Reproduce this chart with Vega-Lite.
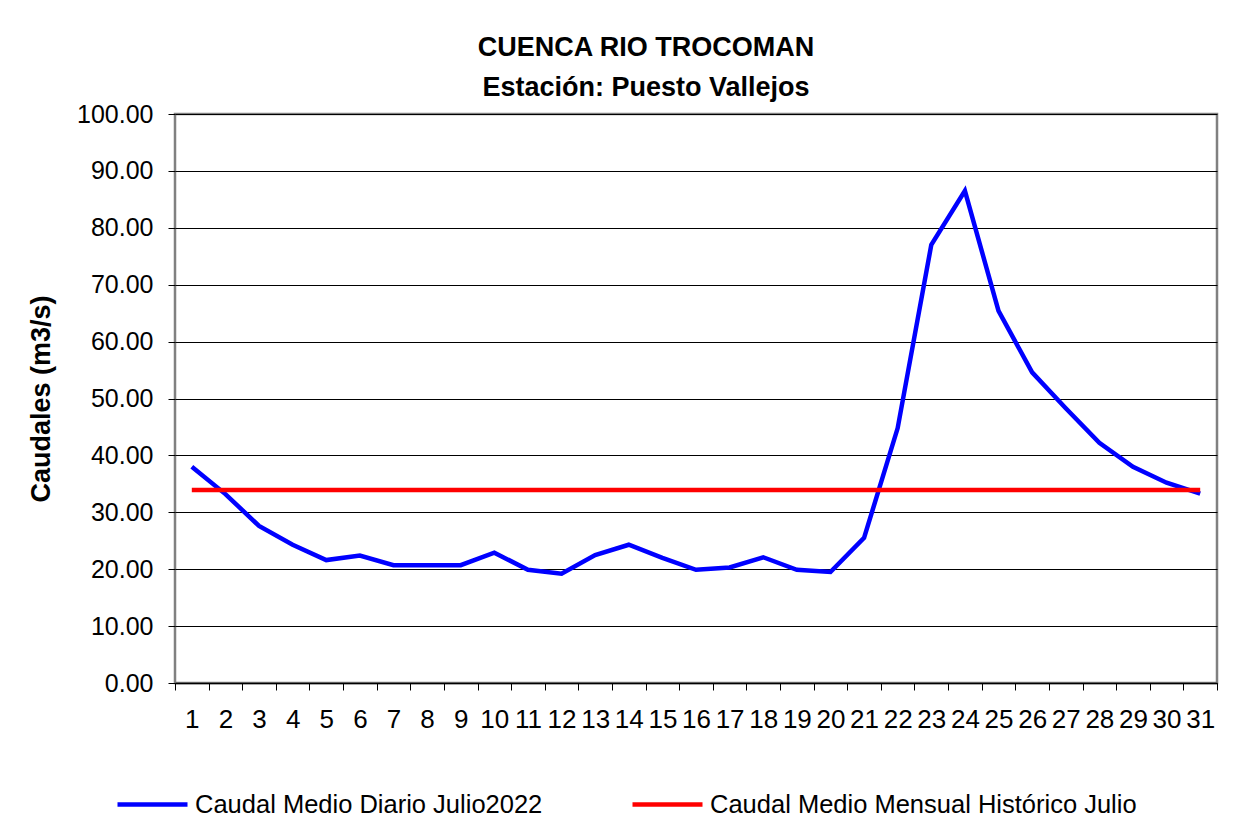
{
  "$schema": "https://vega.github.io/schema/vega-lite/v6.json",
  "width": 1042,
  "height": 569,
  "autosize": {"type": "none"},
  "padding": {"left": 175, "top": 114, "right": 34, "bottom": 151},
  "background": "white",
  "title": {
    "text": ["CUENCA RIO TROCOMAN", "Estación: Puesto Vallejos"],
    "font": "Liberation Sans",
    "fontSize": 27,
    "fontWeight": "bold",
    "lineHeight": 40,
    "color": "black",
    "anchor": "middle",
    "dx": -50,
    "offset": 0
  },
  "config": {
    "view": {"stroke": "#808080", "strokeWidth": 2.5},
    "axis": {"labelFont": "Liberation Sans", "titleFont": "Liberation Sans", "labelColor": "black", "titleColor": "black"}
  },
  "data": {
    "values": [
      {"dia": 1, "serie": "Caudal Medio Diario Julio2022", "caudal": 38.0},
      {"dia": 2, "serie": "Caudal Medio Diario Julio2022", "caudal": 33.2},
      {"dia": 3, "serie": "Caudal Medio Diario Julio2022", "caudal": 27.6},
      {"dia": 4, "serie": "Caudal Medio Diario Julio2022", "caudal": 24.3},
      {"dia": 5, "serie": "Caudal Medio Diario Julio2022", "caudal": 21.6},
      {"dia": 6, "serie": "Caudal Medio Diario Julio2022", "caudal": 22.4},
      {"dia": 7, "serie": "Caudal Medio Diario Julio2022", "caudal": 20.7},
      {"dia": 8, "serie": "Caudal Medio Diario Julio2022", "caudal": 20.7},
      {"dia": 9, "serie": "Caudal Medio Diario Julio2022", "caudal": 20.7},
      {"dia": 10, "serie": "Caudal Medio Diario Julio2022", "caudal": 22.9},
      {"dia": 11, "serie": "Caudal Medio Diario Julio2022", "caudal": 19.9},
      {"dia": 12, "serie": "Caudal Medio Diario Julio2022", "caudal": 19.2},
      {"dia": 13, "serie": "Caudal Medio Diario Julio2022", "caudal": 22.5},
      {"dia": 14, "serie": "Caudal Medio Diario Julio2022", "caudal": 24.3},
      {"dia": 15, "serie": "Caudal Medio Diario Julio2022", "caudal": 22.0},
      {"dia": 16, "serie": "Caudal Medio Diario Julio2022", "caudal": 19.9},
      {"dia": 17, "serie": "Caudal Medio Diario Julio2022", "caudal": 20.3},
      {"dia": 18, "serie": "Caudal Medio Diario Julio2022", "caudal": 22.1},
      {"dia": 19, "serie": "Caudal Medio Diario Julio2022", "caudal": 19.9},
      {"dia": 20, "serie": "Caudal Medio Diario Julio2022", "caudal": 19.5},
      {"dia": 21, "serie": "Caudal Medio Diario Julio2022", "caudal": 25.5},
      {"dia": 22, "serie": "Caudal Medio Diario Julio2022", "caudal": 44.8},
      {"dia": 23, "serie": "Caudal Medio Diario Julio2022", "caudal": 77.0},
      {"dia": 24, "serie": "Caudal Medio Diario Julio2022", "caudal": 86.5},
      {"dia": 25, "serie": "Caudal Medio Diario Julio2022", "caudal": 65.4},
      {"dia": 26, "serie": "Caudal Medio Diario Julio2022", "caudal": 54.6},
      {"dia": 27, "serie": "Caudal Medio Diario Julio2022", "caudal": 48.3},
      {"dia": 28, "serie": "Caudal Medio Diario Julio2022", "caudal": 42.2},
      {"dia": 29, "serie": "Caudal Medio Diario Julio2022", "caudal": 38.0},
      {"dia": 30, "serie": "Caudal Medio Diario Julio2022", "caudal": 35.2},
      {"dia": 31, "serie": "Caudal Medio Diario Julio2022", "caudal": 33.3},
      {"dia": 1, "serie": "Caudal Medio Mensual Histórico Julio", "caudal": 33.9},
      {"dia": 2, "serie": "Caudal Medio Mensual Histórico Julio", "caudal": 33.9},
      {"dia": 3, "serie": "Caudal Medio Mensual Histórico Julio", "caudal": 33.9},
      {"dia": 4, "serie": "Caudal Medio Mensual Histórico Julio", "caudal": 33.9},
      {"dia": 5, "serie": "Caudal Medio Mensual Histórico Julio", "caudal": 33.9},
      {"dia": 6, "serie": "Caudal Medio Mensual Histórico Julio", "caudal": 33.9},
      {"dia": 7, "serie": "Caudal Medio Mensual Histórico Julio", "caudal": 33.9},
      {"dia": 8, "serie": "Caudal Medio Mensual Histórico Julio", "caudal": 33.9},
      {"dia": 9, "serie": "Caudal Medio Mensual Histórico Julio", "caudal": 33.9},
      {"dia": 10, "serie": "Caudal Medio Mensual Histórico Julio", "caudal": 33.9},
      {"dia": 11, "serie": "Caudal Medio Mensual Histórico Julio", "caudal": 33.9},
      {"dia": 12, "serie": "Caudal Medio Mensual Histórico Julio", "caudal": 33.9},
      {"dia": 13, "serie": "Caudal Medio Mensual Histórico Julio", "caudal": 33.9},
      {"dia": 14, "serie": "Caudal Medio Mensual Histórico Julio", "caudal": 33.9},
      {"dia": 15, "serie": "Caudal Medio Mensual Histórico Julio", "caudal": 33.9},
      {"dia": 16, "serie": "Caudal Medio Mensual Histórico Julio", "caudal": 33.9},
      {"dia": 17, "serie": "Caudal Medio Mensual Histórico Julio", "caudal": 33.9},
      {"dia": 18, "serie": "Caudal Medio Mensual Histórico Julio", "caudal": 33.9},
      {"dia": 19, "serie": "Caudal Medio Mensual Histórico Julio", "caudal": 33.9},
      {"dia": 20, "serie": "Caudal Medio Mensual Histórico Julio", "caudal": 33.9},
      {"dia": 21, "serie": "Caudal Medio Mensual Histórico Julio", "caudal": 33.9},
      {"dia": 22, "serie": "Caudal Medio Mensual Histórico Julio", "caudal": 33.9},
      {"dia": 23, "serie": "Caudal Medio Mensual Histórico Julio", "caudal": 33.9},
      {"dia": 24, "serie": "Caudal Medio Mensual Histórico Julio", "caudal": 33.9},
      {"dia": 25, "serie": "Caudal Medio Mensual Histórico Julio", "caudal": 33.9},
      {"dia": 26, "serie": "Caudal Medio Mensual Histórico Julio", "caudal": 33.9},
      {"dia": 27, "serie": "Caudal Medio Mensual Histórico Julio", "caudal": 33.9},
      {"dia": 28, "serie": "Caudal Medio Mensual Histórico Julio", "caudal": 33.9},
      {"dia": 29, "serie": "Caudal Medio Mensual Histórico Julio", "caudal": 33.9},
      {"dia": 30, "serie": "Caudal Medio Mensual Histórico Julio", "caudal": 33.9},
      {"dia": 31, "serie": "Caudal Medio Mensual Histórico Julio", "caudal": 33.9}
    ]
  },
  "mark": {"type": "line", "strokeWidth": 4.5},
  "encoding": {
    "x": {
      "field": "dia",
      "type": "quantitative",
      "scale": {"domain": [0.5, 31.5], "nice": false, "zero": false},
      "axis": {
        "title": null,
        "values": [0.5, 1.5, 2.5, 3.5, 4.5, 5.5, 6.5, 7.5, 8.5, 9.5, 10.5, 11.5, 12.5, 13.5, 14.5, 15.5, 16.5, 17.5, 18.5, 19.5, 20.5, 21.5, 22.5, 23.5, 24.5, 25.5, 26.5, 27.5, 28.5, 29.5, 30.5, 31.5],
        "labelExpr": "datum.value > 31 ? '' : format(datum.value + 0.5, 'd')",
        "labelOffset": 16.8,
        "labelFontSize": 26,
        "labelPadding": 16,
        "labelFlush": false,
        "labelOverlap": false,
        "tickSize": 7,
        "tickColor": "black",
        "tickWidth": 1,
        "domainColor": "black",
        "domainWidth": 1.5,
        "grid": false
      }
    },
    "y": {
      "field": "caudal",
      "type": "quantitative",
      "scale": {"domain": [0, 100], "nice": false},
      "axis": {
        "title": "Caudales (m3/s)",
        "titleFontSize": 27,
        "titleFontWeight": "bold",
        "titlePadding": 21,
        "values": [0, 10, 20, 30, 40, 50, 60, 70, 80, 90, 100],
        "format": ".2f",
        "labelFontSize": 25,
        "labelPadding": 15,
        "tickSize": 7,
        "tickColor": "black",
        "domain": false,
        "grid": true,
        "gridColor": "black",
        "gridWidth": 1,
        "gridOpacity": 1
      }
    },
    "color": {
      "field": "serie",
      "type": "nominal",
      "scale": {"domain": ["Caudal Medio Diario Julio2022", "Caudal Medio Mensual Histórico Julio"], "range": ["#0000FF", "#FF0000"]},
      "legend": {
        "title": null,
        "orient": "none",
        "direction": "horizontal",
        "legendX": -60,
        "legendY": 653,
        "padding": 0,
        "symbolType": "stroke",
        "symbolSize": 4900,
        "symbolStrokeWidth": 4.5,
        "labelFont": "Liberation Sans",
        "labelFontSize": 25.5,
        "labelColor": "black",
        "labelOffset": 5,
        "labelLimit": 0,
        "columnPadding": 80
      }
    }
  }
}
